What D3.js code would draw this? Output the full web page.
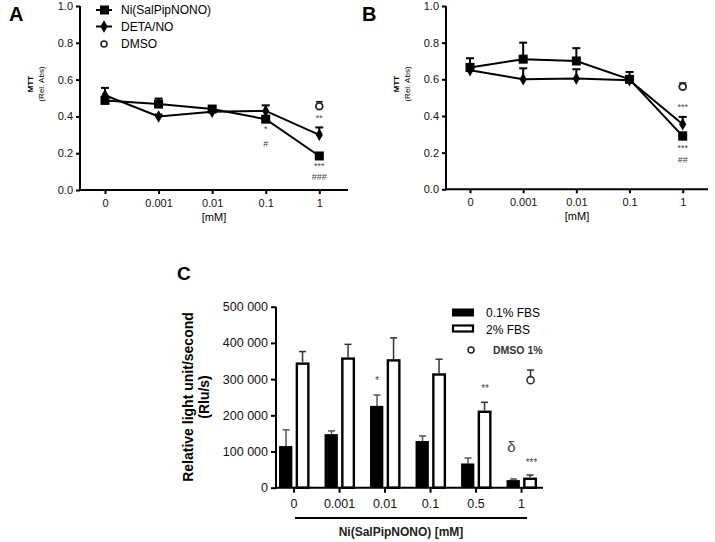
<!DOCTYPE html>
<html><head><meta charset="utf-8">
<script src="https://cdn.jsdelivr.net/npm/d3@7"></script>
<style>
html,body{margin:0;padding:0;background:#fff;}
svg{display:block;font-family:"Liberation Sans",Arial,sans-serif;}
</style></head>
<body>
<svg id="c" width="715" height="542"></svg>
<script>
// ---- Data ----
const doseLabelsAB = ["0","0.001","0.01","0.1","1"];
const yTicksAB = [0,0.2,0.4,0.6,0.8,1.0];
// Panel A
const aNi = [0.487,0.467,0.44,0.385,0.185];
const aNiErr = [0.012,0.03,0.015,0.015,0.015];
const aDeta = [0.515,0.40,0.425,0.43,0.30];
const aDetaErr = [0.04,0.01,0.01,0.03,0.04];
const aDmso = 0.455, aDmsoErr = 0.025;
// Panel B
const bNi = [0.665,0.71,0.70,0.60,0.29];
const bNiErr = [0.05,0.09,0.07,0.04,0.02];
const bDeta = [0.65,0.60,0.605,0.595,0.355];
const bDetaErr = [0.02,0.06,0.05,0.02,0.04];
const bDmso = 0.56, bDmsoErr = 0.02;
// Panel C
const doseLabelsC = ["0","0.001","0.01","0.1","0.5","1"];
const yTicksC = [0,100000,200000,300000,400000,500000];
const cFbs01 = [115000,148000,226000,129000,67000,21000];
const cFbs01Err = [45000,9000,30000,14000,15000,3000];
const cFbs2 = [346000,360000,355000,316000,213000,28000];
const cFbs2Err = [30000,36000,59000,39000,23000,7000];
const cDmso = 297000, cDmsoErr = 28000;

const svg = d3.select("#c");
const FONT = "Liberation Sans, Arial, sans-serif";

function lineMarkerPanel(opt){
  const g = svg.append("g");
  const x = d3.scalePoint().domain(doseLabelsAB).range([opt.x0, opt.x1]);
  const y = d3.scaleLinear().domain([0,1]).range([opt.yb, opt.yt]);
  const ya = g.append("g").attr("transform",`translate(${opt.ax},0)`)
    .call(d3.axisLeft(y).tickValues(yTicksAB).tickFormat(d3.format(".1f")).tickSize(4).tickPadding(3));
  const xa = g.append("g").attr("transform",`translate(0,${opt.yb})`)
    .call(d3.axisBottom(x).tickSize(4).tickPadding(5));
  [ya,xa].forEach(a=>{
    a.select(".domain").remove();
    a.selectAll("line").attr("stroke","#000").attr("stroke-width",2);
    a.selectAll("text").attr("font-size",11).attr("font-family",FONT).attr("fill","#111");
  });
  g.append("line").attr("x1",opt.ax).attr("x2",opt.ax).attr("y1",opt.yt).attr("y2",opt.yb+1).attr("stroke","#000").attr("stroke-width",2);
  g.append("line").attr("x1",opt.ax-1).attr("x2",opt.axEnd).attr("y1",opt.yb).attr("y2",opt.yb).attr("stroke","#000").attr("stroke-width",2);
  const ly = 84;
  g.append("text").attr("transform",`translate(${opt.ax-47},${ly}) rotate(-90)`).attr("text-anchor","middle")
    .attr("font-size",8).attr("font-weight","bold").attr("font-family",FONT).text("MTT");
  g.append("text").attr("transform",`translate(${opt.ax-36},${ly}) rotate(-90)`).attr("text-anchor","middle")
    .attr("font-size",8).attr("font-family",FONT).text("(Rel. Abs)");
  g.append("text").attr("x",(opt.ax+opt.axEnd)/2).attr("y",opt.yb+31).attr("text-anchor","middle")
    .attr("font-size",11).attr("font-family",FONT).text("[mM]");
  const line = d3.line().x((d,i)=>x(doseLabelsAB[i])).y(d=>y(d));
  [[opt.ni,opt.niErr],[opt.deta,opt.detaErr]].forEach(([vals,errs])=>{
    vals.forEach((v,i)=>{
      const cx = x(doseLabelsAB[i]);
      g.append("line").attr("x1",cx).attr("x2",cx).attr("y1",y(v)).attr("y2",y(v+errs[i])).attr("stroke","#000").attr("stroke-width",2);
      g.append("line").attr("x1",cx-4).attr("x2",cx+4).attr("y1",y(v+errs[i])).attr("y2",y(v+errs[i])).attr("stroke","#000").attr("stroke-width",2);
    });
    g.append("path").datum(vals).attr("d",line).attr("fill","none").attr("stroke","#000").attr("stroke-width",2);
  });
  opt.ni.forEach((v,i)=>{
    g.append("rect").attr("x",x(doseLabelsAB[i])-4.5).attr("y",y(v)-4.5).attr("width",9).attr("height",9).attr("fill","#000");
  });
  const diamond = d3.symbol().type(d3.symbolDiamond).size(45);
  opt.deta.forEach((v,i)=>{
    g.append("path").attr("d",diamond).attr("transform",`translate(${x(doseLabelsAB[i])},${y(v)})`).attr("fill","#000");
  });
  const dx = x("1");
  g.append("line").attr("x1",dx).attr("x2",dx).attr("y1",y(opt.dmso)).attr("y2",y(opt.dmso+opt.dmsoErr)).attr("stroke","#222").attr("stroke-width",1.6);
  g.append("line").attr("x1",dx-3.5).attr("x2",dx+3.5).attr("y1",y(opt.dmso+opt.dmsoErr)).attr("y2",y(opt.dmso+opt.dmsoErr)).attr("stroke","#222").attr("stroke-width",1.6);
  g.append("circle").attr("cx",dx).attr("cy",y(opt.dmso)).attr("r",3.4).attr("fill","#fff").attr("stroke","#222").attr("stroke-width",1.8);
  opt.notes.forEach(n=>{
    g.append("text").attr("x",x(n.d)).attr("y",n.y).attr("text-anchor","middle").attr("font-size",n.s||9)
      .attr("fill","#444").attr("font-family",FONT).text(n.t);
  });
  g.append("text").attr("x",opt.lx).attr("y",opt.ly).attr("font-size",20).attr("font-weight","bold").attr("font-family",FONT).text(opt.label);
  return {g,x,y};
}

lineMarkerPanel({x0:105,x1:319.3,ax:80,axEnd:348,yb:190,yt:6,
  ni:aNi,niErr:aNiErr,deta:aDeta,detaErr:aDetaErr,dmso:aDmso,dmsoErr:aDmsoErr,label:"A",lx:9,ly:21,
  notes:[{d:"0.1",y:132,t:"*"},{d:"0.1",y:147,t:"#"},{d:"1",y:121,t:"**"},{d:"1",y:169,t:"***"},{d:"1",y:180,t:"###"}]});
lineMarkerPanel({x0:470,x1:682.7,ax:446,axEnd:708,yb:189.3,yt:6,
  ni:bNi,niErr:bNiErr,deta:bDeta,detaErr:bDetaErr,dmso:bDmso,dmsoErr:bDmsoErr,label:"B",lx:362,ly:21,
  notes:[{d:"1",y:110,t:"***"},{d:"1",y:151,t:"***"},{d:"1",y:163,t:"##"}]});

// Legend A
const lg = svg.append("g");
const legItems = [{t:"Ni(SalPipNONO)",y:10,m:"sq"},{t:"DETA/NO",y:26.5,m:"di"},{t:"DMSO",y:44,m:"ci"}];
legItems.forEach(it=>{
  if(it.m!=="ci") lg.append("line").attr("x1",96).attr("x2",112).attr("y1",it.y).attr("y2",it.y).attr("stroke","#000").attr("stroke-width",2);
  if(it.m==="sq") lg.append("rect").attr("x",100).attr("y",it.y-4.5).attr("width",9).attr("height",9);
  if(it.m==="di") lg.append("path").attr("d",d3.symbol().type(d3.symbolDiamond).size(45)).attr("transform",`translate(104,${it.y})`);
  if(it.m==="ci") lg.append("circle").attr("cx",104).attr("cy",it.y).attr("r",3).attr("fill","#fff").attr("stroke","#222").attr("stroke-width",1.6);
  lg.append("text").attr("x",121).attr("y",it.y+4).attr("font-size",12).attr("font-family",FONT).text(it.t);
});

// ---- Panel C ----
const gc = svg.append("g");
const cAx = 276, cYb = 487.7, cYt = 306.7;
const xc = d3.scaleBand().domain(doseLabelsC).range([271.3, 544.3]).padding(0);
const yc = d3.scaleLinear().domain([0,500000]).range([cYb,cYt]);
const fmtC = d=> d===0 ? "0" : d3.format(",")(d).replace(/,/g," ");
const yac = gc.append("g").attr("transform",`translate(${cAx},0)`)
  .call(d3.axisLeft(yc).tickValues(yTicksC).tickFormat(fmtC).tickSize(5).tickPadding(3));
const xac = gc.append("g").attr("transform",`translate(0,${cYb})`)
  .call(d3.axisBottom(xc).tickSize(5).tickPadding(6));
[yac,xac].forEach(a=>{
  a.select(".domain").remove();
  a.selectAll("line").attr("stroke","#000").attr("stroke-width",2);
  a.selectAll("text").attr("font-size",12.5).attr("font-family",FONT).attr("fill","#111");
});
const cx = d=> xc(d)+xc.bandwidth()/2;
cFbs01.forEach((v,i)=>{
  const c = cx(doseLabelsC[i]);
  gc.append("line").attr("x1",c-8).attr("x2",c-8).attr("y1",yc(v)).attr("y2",yc(v+cFbs01Err[i])).attr("stroke","#555").attr("stroke-width",1.5);
  gc.append("line").attr("x1",c-11.5).attr("x2",c-4.5).attr("y1",yc(v+cFbs01Err[i])).attr("y2",yc(v+cFbs01Err[i])).attr("stroke","#555").attr("stroke-width",1.5);
  gc.append("rect").attr("x",c-15).attr("y",yc(v)).attr("width",13.3).attr("height",cYb-yc(v)).attr("fill","#000");
});
cFbs2.forEach((v,i)=>{
  const c = cx(doseLabelsC[i]);
  gc.append("line").attr("x1",c+8.5).attr("x2",c+8.5).attr("y1",yc(v)).attr("y2",yc(v+cFbs2Err[i])).attr("stroke","#333").attr("stroke-width",1.5);
  gc.append("line").attr("x1",c+5).attr("x2",c+12).attr("y1",yc(v+cFbs2Err[i])).attr("y2",yc(v+cFbs2Err[i])).attr("stroke","#333").attr("stroke-width",1.5);
  gc.append("rect").attr("x",c+2.8).attr("y",yc(v)+1.2).attr("width",11.5).attr("height",cYb-yc(v)-1.2).attr("fill","#fff").attr("stroke","#000").attr("stroke-width",2.4);
});
gc.append("line").attr("x1",cAx).attr("x2",cAx).attr("y1",cYt).attr("y2",cYb+1).attr("stroke","#000").attr("stroke-width",2);
gc.append("line").attr("x1",cAx-1).attr("x2",543).attr("y1",cYb).attr("y2",cYb).attr("stroke","#000").attr("stroke-width",2);
const dcx = cx("1")+9;
gc.append("line").attr("x1",dcx).attr("x2",dcx).attr("y1",yc(cDmso)).attr("y2",yc(cDmso+cDmsoErr)).attr("stroke","#333").attr("stroke-width",1.5);
gc.append("line").attr("x1",dcx-3.5).attr("x2",dcx+3.5).attr("y1",yc(cDmso+cDmsoErr)).attr("y2",yc(cDmso+cDmsoErr)).attr("stroke","#333").attr("stroke-width",1.5);
gc.append("circle").attr("cx",dcx).attr("cy",yc(cDmso)).attr("r",3.6).attr("fill","#fff").attr("stroke","#333").attr("stroke-width",1.6);
const notesC = [{x:cx("0.01")-8,y:384,t:"*",s:11},{x:cx("0.5")+9,y:392,t:"**",s:10},{x:cx("1")-10,y:452,t:"δ",s:15},{x:cx("1")+10,y:466,t:"***",s:10}];
notesC.forEach(n=>gc.append("text").attr("x",n.x).attr("y",n.y).attr("text-anchor","middle").attr("font-size",n.s).attr("fill","#444").attr("font-family",FONT).text(n.t));
gc.append("rect").attr("x",452).attr("y",308.5).attr("width",22).attr("height",8).attr("fill","#000");
gc.append("text").attr("x",486).attr("y",317).attr("font-size",12).attr("font-family",FONT).text("0.1% FBS");
gc.append("rect").attr("x",453).attr("y",325.5).attr("width",20).attr("height",6).attr("fill","#fff").attr("stroke","#000").attr("stroke-width",2.2);
gc.append("text").attr("x",486).attr("y",333.5).attr("font-size",12).attr("font-family",FONT).text("2% FBS");
gc.append("circle").attr("cx",471).attr("cy",350).attr("r",3).attr("fill","#fff").attr("stroke","#222").attr("stroke-width",1.5);
gc.append("text").attr("x",493).attr("y",354).attr("font-size",10.5).attr("font-weight","bold").attr("fill","#333").attr("font-family",FONT).text("DMSO 1%");
gc.append("text").attr("transform","translate(193,397) rotate(-90)").attr("text-anchor","middle").attr("font-size",14).attr("font-weight","bold").attr("font-family",FONT).text("Relative light unit/second");
gc.append("text").attr("transform","translate(209,397) rotate(-90)").attr("text-anchor","middle").attr("font-size",14).attr("font-weight","bold").attr("font-family",FONT).text("(Rlu/s)");
gc.append("line").attr("x1",295).attr("x2",527).attr("y1",518).attr("y2",518).attr("stroke","#000").attr("stroke-width",2.2);
gc.append("text").attr("x",401).attr("y",536).attr("text-anchor","middle").attr("font-size",12).attr("font-weight","bold").attr("fill","#222").attr("font-family",FONT).text("Ni(SalPipNONO) [mM]");
gc.append("text").attr("x",177).attr("y",280).attr("font-size",19).attr("font-weight","bold").attr("font-family",FONT).text("C");
</script>
</body></html>
